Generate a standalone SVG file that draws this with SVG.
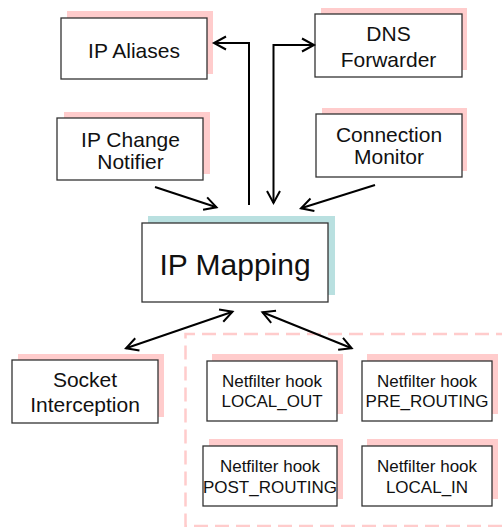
<svg xmlns="http://www.w3.org/2000/svg" width="502" height="527" viewBox="0 0 502 527">
<style>
.sh{fill:#ffcccc;stroke:none}
.sht{fill:#b9e0e0;stroke:none}
.bx{fill:#ffffff;stroke:#333333;stroke-width:1.3}
.t{font-family:"Liberation Sans",Arial,sans-serif;font-size:21px;fill:#111111;text-anchor:middle}
.tb{font-family:"Liberation Sans",Arial,sans-serif;font-size:30px;fill:#111111;text-anchor:middle}
.ts{font-family:"Liberation Sans",Arial,sans-serif;font-size:17px;fill:#111111;text-anchor:middle}
.c{fill:none;stroke:#000000;stroke-width:2}
.dash{fill:none;stroke:#ffcccc;stroke-width:2.5;stroke-dasharray:14 7}
</style>
<defs>
<marker id="ah" markerUnits="userSpaceOnUse" viewBox="-15 -9 18 18" markerWidth="18" markerHeight="18" refX="0" refY="0" orient="auto-start-reverse">
<path d="M-12,-6.5 L0,0 L-12,6.5" fill="none" stroke="#000000" stroke-width="2"/>
</marker>
</defs>
<rect width="502" height="527" fill="#ffffff"/>
<path class="dash" d="M510,334 H185.5 V526 H510"/>
<g id="ip-aliases">
<rect class="sh" x="67" y="11" width="146" height="63"/>
<rect class="bx" x="61" y="18" width="146" height="61"/>
<text class="t" x="134" y="57.5">IP Aliases</text>
</g>
<g id="dns-forwarder">
<rect class="sh" x="321" y="8" width="146" height="62"/>
<rect class="bx" x="315" y="14" width="147" height="63"/>
<text class="t" x="388.5" y="41">DNS</text>
<text class="t" x="388.5" y="67">Forwarder</text>
</g>
<g id="ip-change-notifier">
<rect class="sh" x="64" y="112" width="146" height="62"/>
<rect class="bx" x="57" y="118" width="146" height="62"/>
<text class="t" x="130.5" y="146.5">IP Change</text>
<text class="t" x="130.5" y="168.5">Notifier</text>
</g>
<g id="connection-monitor">
<rect class="sh" x="322" y="108" width="145" height="63"/>
<rect class="bx" x="316" y="114" width="146" height="63"/>
<text class="t" x="389" y="141.5">Connection</text>
<text class="t" x="389" y="164.3">Monitor</text>
</g>
<g id="ip-mapping">
<rect class="sht" x="148" y="216" width="187" height="79"/>
<rect class="bx" x="142" y="223" width="186" height="79"/>
<text class="tb" x="235" y="275">IP Mapping</text>
</g>
<g id="socket-interception">
<rect class="sh" x="18" y="354" width="146" height="63"/>
<rect class="bx" x="12" y="360" width="146" height="63"/>
<text class="t" x="85" y="387.3">Socket</text>
<text class="t" x="85" y="411.7">Interception</text>
</g>
<g id="nf-local-out">
<rect class="sh" x="212" y="354" width="131" height="60"/>
<rect class="bx" x="207" y="361" width="130" height="60"/>
<text class="ts" x="272" y="386.7">Netfilter hook</text>
<text class="ts" x="272" y="407.3">LOCAL_OUT</text>
</g>
<g id="nf-pre-routing">
<rect class="sh" x="367" y="354" width="131" height="60"/>
<rect class="bx" x="362" y="361" width="130" height="60"/>
<text class="ts" x="427" y="386.7">Netfilter hook</text>
<text class="ts" x="427" y="407.3">PRE_ROUTING</text>
</g>
<g id="nf-post-routing">
<rect class="sh" x="209" y="439" width="134" height="60"/>
<rect class="bx" x="203" y="446" width="134" height="60"/>
<text class="ts" x="270" y="471.7">Netfilter hook</text>
<text class="ts" x="270" y="492.7">POST_ROUTING</text>
</g>
<g id="nf-local-in">
<rect class="sh" x="367" y="439" width="131" height="60"/>
<rect class="bx" x="362" y="446" width="130" height="60"/>
<text class="ts" x="427" y="471.7">Netfilter hook</text>
<text class="ts" x="427" y="492.7">LOCAL_IN</text>
</g>
<g id="connectors">
<path class="c" d="M249,205 V43 H214" marker-end="url(#ah)"/>
<path class="c" d="M273.5,203 V45 H314" marker-start="url(#ah)" marker-end="url(#ah)"/>
<path class="c" d="M155,187 L216.5,207.3" marker-end="url(#ah)"/>
<path class="c" d="M375,185 L301,208.3" marker-end="url(#ah)"/>
<path class="c" d="M232.5,311.7 L126,348.3" marker-start="url(#ah)" marker-end="url(#ah)"/>
<path class="c" d="M262.5,312.3 L351.7,348.3" marker-start="url(#ah)" marker-end="url(#ah)"/>
</g>
</svg>
